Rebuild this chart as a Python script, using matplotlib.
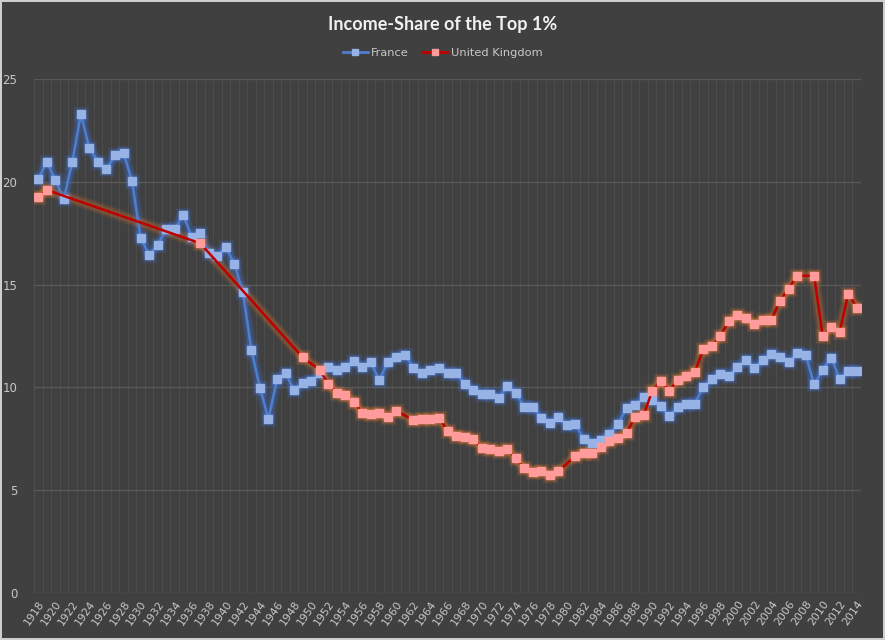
import numpy as np
import matplotlib
matplotlib.use("Agg")
import matplotlib.pyplot as plt
from matplotlib.lines import Line2D

years = list(range(1918, 2015))

france = [
    20.12, 20.98, 20.09, 19.16, 20.98, 23.28, 21.63, 20.98, 20.60, 21.29,
    21.42, 20.04, 17.27, 16.45, 16.91, 17.69, 17.69, 18.39, 17.33, 17.49,
    16.52, 16.41, 16.82, 16.02, 14.62, 11.82, 9.99, 8.46, 10.39, 10.70,
    9.87, 10.23, 10.31, 10.72, 10.98, 10.83, 11.01, 11.30, 10.98, 11.22,
    10.36, 11.22, 11.46, 11.59, 10.96, 10.70, 10.83, 10.96, 10.70, 10.70,
    10.17, 9.89, 9.66, 9.70, 9.47, 10.07, 9.73, 9.06, 9.06, 8.51,
    8.25, 8.56, 8.17, 8.20, 7.47, 7.28, 7.44, 7.75, 8.22, 9.00,
    9.16, 9.51, 9.37, 9.10, 8.60, 9.06, 9.18, 9.21, 10.02, 10.41,
    10.67, 10.55, 11.01, 11.33, 10.94, 11.35, 11.62, 11.46, 11.22, 11.66,
    11.58, 10.15, 10.85, 11.45, 10.41, 10.81, 10.81,
]

# None = no observation that year (Excel connects across the gap)
uk = [
    19.26, 19.60, None, None, None, None, None, None, None, None,
    None, None, None, None, None, None, None, None, None, 17.01,
    None, None, None, None, None, None, None, None, None, None,
    None, 11.46, None, 10.86, 10.18, 9.73, 9.65, 9.31, 8.74, 8.72,
    8.74, 8.58, 8.86, None, 8.41, 8.45, 8.45, 8.53, 7.90, 7.64,
    7.57, 7.47, 7.07, 7.00, 6.92, 6.99, 6.55, 6.08, 5.90, 5.93,
    5.74, 5.93, None, 6.66, 6.83, 6.79, 7.12, 7.41, 7.52, 7.77,
    8.58, 8.65, 9.82, 10.33, 9.84, 10.36, 10.56, 10.73, 11.86, 12.03,
    12.50, 13.23, 13.50, 13.39, 13.07, 13.26, 13.29, 14.22, 14.80, 15.43,
    None, 15.43, 12.50, 12.92, 12.70, 14.56, 13.88,
]

BG = "#404040"
GRID = "#585858"
TEXT = "#c8c8c8"


def draw_glow(ax, x, y, line_color, marker_color, glow_color):
    # soft halo under the series, like Excel's glow effect
    for lw, ms, a in [(9, 12, 0.08), (7, 10.5, 0.12), (5, 9, 0.16)]:
        ax.plot(x, y, color=glow_color, lw=lw, alpha=a, solid_capstyle="round",
                marker="s", ms=ms, mec="none", mfc=glow_color, zorder=2)
    ax.plot(x, y, color=line_color, lw=1.8, marker="s", ms=5.6,
            mfc=marker_color, mec=marker_color, zorder=3)


fig = plt.figure(figsize=(8.85, 6.4), dpi=100)
fig.patch.set_facecolor(BG)
fig.patch.set_edgecolor("#cfcfcf")
fig.patch.set_linewidth(1.5)
ax = fig.add_axes([0.0384, 0.0734, 0.9345, 0.8032])
ax.set_facecolor(BG)

idx = np.arange(len(years))
fr = np.array(france, dtype=float)
gb = np.array([np.nan if v is None else v for v in uk], dtype=float)
ok = ~np.isnan(gb)

draw_glow(ax, idx, fr, "#4f7fd0", "#97b3e6", "#3f7ae8")
draw_glow(ax, idx[ok], gb[ok], "#c00000", "#ff9b9b", "#ed7d31")

ax.set_xlim(-0.5, len(years) - 0.5)
ax.set_ylim(0, 25)
ax.set_yticks(range(0, 26, 5))
ax.set_xticks(idx[::2])
ax.set_xticklabels([str(y) for y in years[::2]], rotation=55, ha="right",
                   rotation_mode="anchor", color=TEXT, fontsize=7.8)
ax.set_xticks(np.arange(-0.5, len(years), 1), minor=True)
ax.tick_params(axis="both", which="both", length=0)
ax.tick_params(axis="y", colors=TEXT, labelsize=8.5, pad=12)
ax.tick_params(axis="x", pad=4)
ax.grid(True, axis="y", which="major", color=GRID, lw=1)
ax.grid(True, axis="x", which="minor", color="#4c4c4c", lw=0.8)
ax.set_axisbelow(True)
for s in ax.spines.values():
    s.set_visible(False)

fig.text(0.5, 0.962, "Income-Share of the Top 1%", ha="center", va="center",
         fontsize=13, fontweight="bold", color="#f0f0f0", family="Lato")

handles = [
    Line2D([], [], color="#4f7fd0", lw=2, marker="s", ms=5,
           mfc="#97b3e6", mec="#97b3e6"),
    Line2D([], [], color="#c00000", lw=2, marker="s", ms=5,
           mfc="#ff9b9b", mec="#ff9b9b"),
]
leg = fig.legend(handles, ["France", "United Kingdom"], loc="center",
                 bbox_to_anchor=(0.5, 0.917), ncol=2, frameon=False,
                 fontsize=8.2, handlelength=2.2, handletextpad=0.3,
                 columnspacing=1.2, labelcolor=TEXT)

fig.savefig("out.png", dpi=100, facecolor=fig.get_facecolor(),
            edgecolor=fig.get_edgecolor())
